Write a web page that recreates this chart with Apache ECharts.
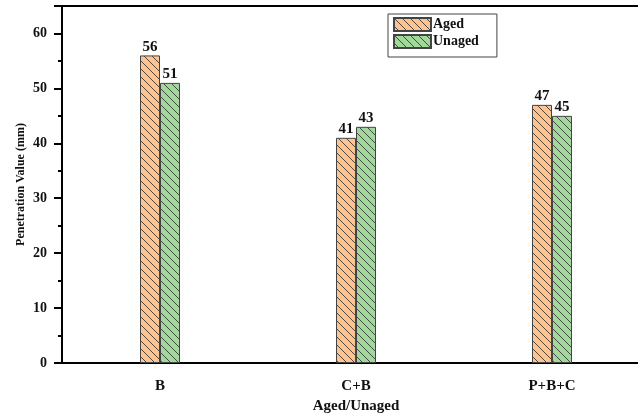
<!DOCTYPE html>
<html>
<head>
<meta charset="utf-8">
<script src="https://cdn.jsdelivr.net/npm/echarts@6/dist/echarts.min.js"></script>
<style>html,body{margin:0;padding:0;background:#fff}#c{width:638px;height:414px}</style>
</head>
<body>
<div id="c"></div>
<script>
var categories = ['B', 'C+B', 'P+B+C'];
var agedValues = [56, 41, 47];
var unagedValues = [51, 43, 45];
var seriesNames = ['Aged', 'Unaged'];
var yTicks = [0, 10, 20, 30, 40, 50, 60];

function hatch(fill) {
  var s = 8;
  var c = document.createElement('canvas');
  c.width = s; c.height = s;
  var g = c.getContext('2d');
  g.fillStyle = fill; g.fillRect(0, 0, s, s);
  g.strokeStyle = '#3a3a3a'; g.lineWidth = 0.9;
  g.beginPath();
  g.moveTo(-1, -1); g.lineTo(s + 1, s + 1);
  g.moveTo(-1, s - 1); g.lineTo(1, s + 1);
  g.moveTo(s - 1, -1); g.lineTo(s + 1, 1);
  g.stroke();
  return { image: c, repeat: 'repeat' };
}

var font = '"Liberation Serif", "Times New Roman", serif';
var chart = echarts.init(document.getElementById('c'), null, { renderer: 'canvas' });
var labelStyle = { show: true, position: 'top', distance: 1, color: '#111', fontFamily: font, fontWeight: 'bold', fontSize: 15 };

chart.setOption({
  animation: false,
  backgroundColor: '#fff',
  grid: { left: 62, width: 588, top: 6, height: 357, containLabel: false, outerBoundsMode: 'none' },
  legend: {
    data: seriesNames,
    orient: 'vertical',
    left: 388, top: 14,
    padding: [3, 18, 8, 5],
    itemGap: 2,
    icon: 'rect',
    itemWidth: 37, itemHeight: 13,
    borderColor: '#444', borderWidth: 1,
    textStyle: { fontFamily: font, fontWeight: 'bold', fontSize: 14, color: '#111', padding: [0, 0, 0, -3] }
  },
  xAxis: [
    {
      type: 'category', data: categories, position: 'bottom',
      name: 'Aged/Unaged', nameLocation: 'middle', nameGap: 31,
      nameTextStyle: { fontFamily: font, fontWeight: 'bold', fontSize: 15, color: '#111' },
      axisLine: { lineStyle: { color: '#000', width: 2 } },
      axisTick: { alignWithLabel: true, length: 8, lineStyle: { color: '#000', width: 2 } },
      axisLabel: { fontFamily: font, fontWeight: 'bold', fontSize: 15, color: '#111', margin: 16 }
    },
    {
      type: 'category', data: categories, position: 'bottom',
      axisLine: { show: false },
      axisTick: { length: 4, lineStyle: { color: '#000', width: 2 } },
      axisLabel: { show: false }
    },
    {
      type: 'category', data: categories, position: 'top',
      axisLine: { lineStyle: { color: '#000', width: 2 } },
      axisTick: { show: false }, axisLabel: { show: false }
    }
  ],
  yAxis: {
    type: 'value', min: 0, max: 65, interval: 10,
    name: 'Penetration Value (mm)', nameLocation: 'middle', nameGap: 35, nameMoveOverlap: false,
    nameTextStyle: { fontFamily: font, fontWeight: 'bold', fontSize: 12, color: '#111' },
    axisLine: { show: true, lineStyle: { color: '#000', width: 2 } },
    axisTick: { show: true, length: 8, lineStyle: { color: '#000', width: 2 } },
    minorTick: { show: true, splitNumber: 2, length: 4, lineStyle: { color: '#000', width: 2 } },
    splitLine: { show: false },
    axisLabel: {
      fontFamily: font, fontWeight: 'bold', fontSize: 14, color: '#111', margin: 15,
      formatter: function (v) { return yTicks.indexOf(v) >= 0 ? String(v) : ''; }
    }
  },
  series: [
    {
      name: seriesNames[0], type: 'bar', xAxisIndex: 0, data: agedValues,
      barWidth: 20, barGap: '0%',
      itemStyle: { color: hatch('#FFC38F'), borderColor: '#444', borderWidth: 1 },
      label: labelStyle
    },
    {
      name: seriesNames[1], type: 'bar', xAxisIndex: 0, data: unagedValues,
      barWidth: 20, barGap: '0%',
      itemStyle: { color: hatch('#A3D89C'), borderColor: '#444', borderWidth: 1 },
      label: labelStyle
    }
  ]
});
</script>
</body>
</html>
